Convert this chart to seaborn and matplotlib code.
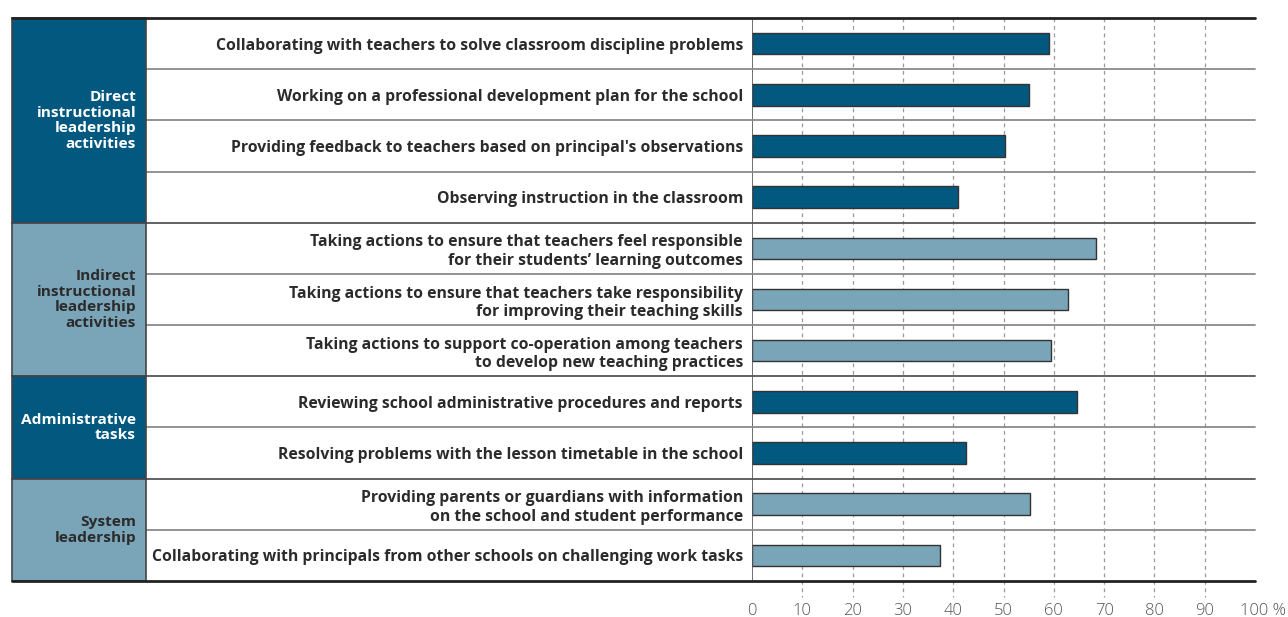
import matplotlib.pyplot as plt
import matplotlib.transforms as mtransforms
from matplotlib.patches import Rectangle
import seaborn as sns
import pandas as pd

# Data (% of principals)
activities = [
    "Collaborating with teachers to solve classroom discipline problems",
    "Working on a professional development plan for the school",
    "Providing feedback to teachers based on principal's observations",
    "Observing instruction in the classroom",
    "Taking actions to ensure that teachers feel responsible\nfor their students\u2019 learning outcomes",
    "Taking actions to ensure that teachers take responsibility\nfor improving their teaching skills",
    "Taking actions to support co-operation among teachers\nto develop new teaching practices",
    "Reviewing school administrative procedures and reports",
    "Resolving problems with the lesson timetable in the school",
    "Providing parents or guardians with information\non the school and student performance",
    "Collaborating with principals from other schools on challenging work tasks",
]
values = [59.0, 55.0, 50.2, 41.0, 68.3, 62.8, 59.4, 64.6, 42.5, 55.3, 37.4]
groups = ["direct"] * 4 + ["indirect"] * 3 + ["admin"] * 2 + ["system"] * 2

group_keys = ["direct", "indirect", "admin", "system"]
group_names = [
    "Direct\ninstructional\nleadership\nactivities",
    "Indirect\ninstructional\nleadership\nactivities",
    "Administrative\ntasks",
    "System\nleadership",
]
group_sizes = [4, 3, 2, 2]
group_fill = ["#02587f", "#7aa4b8", "#02587f", "#7aa4b8"]
group_text = ["white", "#2b2b2b", "white", "#2b2b2b"]

x_ticks = [0, 10, 20, 30, 40, 50, 60, 70, 80, 90, 100]
x_tick_labels = ["0", "10", "20", "30", "40", "50", "60", "70", "80", "90", "100 %"]

df = pd.DataFrame({"activity": activities, "value": values, "group": groups})
palette = dict(zip(group_keys, group_fill))

sns.set_style("white")
plt.rcParams["font.family"] = ["Open Sans", "DejaVu Sans"]

W, H = 1288, 617
fig = plt.figure(figsize=(W / 100, H / 100), dpi=100)
top_px, bot_px = 18, 581
left_px, right_px = 752, 1255
ax = fig.add_axes([left_px / W, 1 - bot_px / H, (right_px - left_px) / W, (bot_px - top_px) / H])

sns.barplot(data=df, x="value", y="activity", hue="group", palette=palette,
            orient="h", dodge=False, width=0.42, saturation=1, edgecolor="#333333",
            linewidth=1.0, legend=False, zorder=3, ax=ax)

n = len(activities)
ax.set_xlim(0, 100)
ax.set_ylim(n - 0.5, -0.5)
for s in ax.spines.values():
    s.set_visible(False)
ax.set_xlabel("")
ax.set_ylabel("")

# dashed grid, running a little below the table
row_px = (bot_px - top_px) / n
ax.vlines(x_ticks[1:-1], -0.5, n - 0.5 + 16 / row_px, colors="#9a9a9a",
          linestyles=(0, (3, 3)), linewidth=0.9, zorder=0, clip_on=False)
ax.axvline(0, color="#555555", lw=1.2, zorder=4)

ax.set_xticks(x_ticks)
ax.set_xticklabels(x_tick_labels, fontsize=12, color="#555555", fontweight="light")
ax.tick_params(axis="x", length=0, pad=16)
# keep the "100" numerals on the tick, with the % sign hanging to the right
last = ax.get_xticklabels()[-1]
last.set_transform(last.get_transform() + mtransforms.ScaledTranslation(8 / 100, 0, fig.dpi_scale_trans))

ax.set_yticks(range(n))
ax.set_yticklabels(activities, fontweight="bold", fontsize=11.3, color="#2b2b2b")
ax.tick_params(axis="y", length=0, pad=6.5)

blend = mtransforms.blended_transform_factory(fig.transFigure, ax.transData)

# row separators
starts = [sum(group_sizes[:i]) for i in range(len(group_sizes))]
for r in range(1, n):
    y = r - 0.5
    if r in starts:
        ax.plot([12 / W, right_px / W], [y, y], transform=blend, color="#555555",
                lw=1.3, clip_on=False, zorder=5)
    else:
        ax.plot([146 / W, right_px / W], [y, y], transform=blend, color="#8a8a8a",
                lw=1.3, clip_on=False, zorder=5)
for y in [-0.5, n - 0.5]:
    ax.plot([12 / W, right_px / W], [y, y], transform=blend, color="#222222",
            lw=2, clip_on=False, zorder=6)

# group boxes on the left
for start, size, name, fill, tc in zip(starts, group_sizes, group_names, group_fill, group_text):
    ax.add_patch(Rectangle((12 / W, start - 0.5), (146 - 12) / W, size, transform=blend,
                           facecolor=fill, edgecolor="#444444", lw=1.2, clip_on=False, zorder=5))
    ax.text(136 / W, start - 0.5 + size / 2, name, transform=blend, ha="right", va="center",
            fontweight="bold", fontsize=11.1, color=tc, linespacing=1.15, zorder=6)

fig.savefig("out.png", dpi=100)
